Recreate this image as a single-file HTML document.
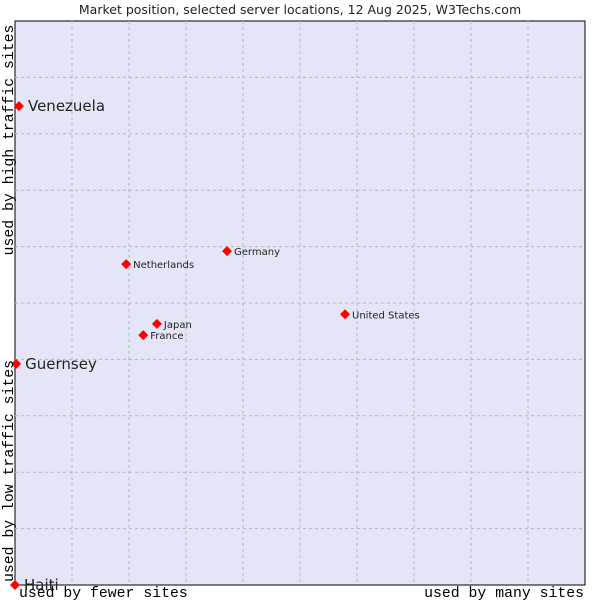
<!DOCTYPE html>
<html><head><meta charset="utf-8"><style>
body{margin:0;background:#fff;}
svg text{font-family:"DejaVu Sans","Liberation Sans",sans-serif;}
.mono{font-family:"Liberation Mono","DejaVu Sans Mono",monospace !important;font-size:14.8px;fill:#000;}
</style></head><body>
<svg id="chart" width="600" height="600" viewBox="0 0 600 600" xmlns="http://www.w3.org/2000/svg">
<text x="300" y="14" text-anchor="middle" font-size="12.5" fill="#222">Market position, selected server locations, 12 Aug 2025, W3Techs.com</text>
<rect x="15" y="21" width="570" height="564" fill="#e4e6f8" stroke="#000" stroke-width="1"/>
<g id="grid"></g>
<g id="points"></g>
<text class="mono" x="19" y="597">used by fewer sites</text>
<text class="mono" x="584" y="597" text-anchor="end">used by many sites</text>
<text class="mono" transform="translate(13,140) rotate(-90)" text-anchor="middle">used by high traffic sites</text>
<text class="mono" transform="translate(13,471) rotate(-90)" text-anchor="middle">used by low traffic sites</text>
</svg>
<script>
const names=["Venezuela","Guernsey","Haiti","Netherlands","Germany","United States","Japan","France"];
const xVals=[0.7,0.2,0,19.5,37.2,57.9,24.9,22.5];
const yVals=[84.9,39.2,0,56.9,59.2,48.0,46.3,44.3];
const bigLabel=[true,true,true,false,false,false,false,false];
const NS="http://www.w3.org/2000/svg";
const L=15,T=21,W=570,H=564;
const xs=v=>L+v/100*W, ys=v=>T+H-v/100*H;
const g=document.getElementById('grid');
for(let i=1;i<10;i++){
 const v=document.createElementNS(NS,'line');
 
 
 v.setAttribute('x1',xs(i*10));v.setAttribute('x2',xs(i*10));v.setAttribute('y1',T);v.setAttribute('y2',T+H);
 v.setAttribute('stroke','#b8b8b8');v.setAttribute('stroke-dasharray','3,3');g.appendChild(v);
 const h=document.createElementNS(NS,'line');
 
 
 h.setAttribute('y1',ys(i*10));h.setAttribute('y2',ys(i*10));h.setAttribute('x1',L);h.setAttribute('x2',L+W);
 h.setAttribute('stroke','#b8b8b8');h.setAttribute('stroke-dasharray','3,3');g.appendChild(h);
}
const p=document.getElementById('points');
names.forEach((n,i)=>{
 const x=xs(xVals[i]),y=ys(yVals[i]);
 const d=document.createElementNS(NS,'path');
 
 
 d.setAttribute('d',`M${x-5},${y}L${x},${y-5}L${x+5},${y}L${x},${y+5}Z`);
 d.setAttribute('fill','#f00');p.appendChild(d);
 const t=document.createElementNS(NS,'text');
 
 
 t.setAttribute('x',x+(bigLabel[i]?9:7));t.setAttribute('y',y+(bigLabel[i]?5:4));
 t.setAttribute('font-size',bigLabel[i]?'15':'10');t.setAttribute('fill','#222');
 t.textContent=n;p.appendChild(t);
});
</script>
</body></html>
